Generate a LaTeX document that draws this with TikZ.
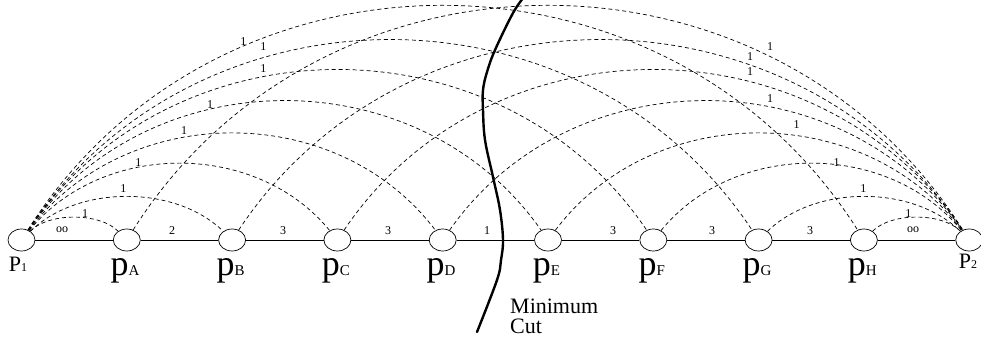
\documentclass[tikz,border=0pt]{standalone}
\usepackage{fontspec}
\setmainfont{Liberation Serif}
\usetikzlibrary{shapes.geometric}
\tikzset{
  vtx/.style={draw, ellipse, minimum width=27pt, minimum height=22pt, inner sep=0pt, line width=0.7pt},
  dasharc/.style={dash pattern=on 4pt off 3pt, line width=0.7pt},
  edgeline/.style={line width=0.7pt},
  wlbl/.style={inner sep=0pt, font=\fontsize{12}{12}\selectfont},
  namelbl/.style={inner sep=0pt, anchor=base},
  cutline/.style={line width=2.4pt, line cap=round}
}
\newcommand{\bigP}[1]{{\fontsize{22}{22}\selectfont P}{\fontsize{12}{12}\selectfont #1}}
\newcommand{\smallp}[1]{{\fontsize{36}{36}\selectfont p}{\fontsize{15}{15}\selectfont #1}}
\begin{document}
\begin{tikzpicture}[x=1pt,y=1pt]
\useasboundingbox (0,0) rectangle (981,345);
% vertices
\node[vtx] (P1) at (21.5,105) {};
\node[vtx] (pA) at (126.8,105) {};
\node[vtx] (pB) at (232.1,105) {};
\node[vtx] (pC) at (337.4,105) {};
\node[vtx] (pD) at (442.7,105) {};
\node[vtx] (pE) at (548.0,105) {};
\node[vtx] (pF) at (653.3,105) {};
\node[vtx] (pG) at (758.6,105) {};
\node[vtx] (pH) at (863.9,105) {};
\node[vtx] (P2) at (969.2,105) {};
% vertex names
\node[namelbl] (nP1) at (18,73) {\bigP{1}};
\node[namelbl] (nA) at (125,69) {\smallp{A}};
\node[namelbl] (nB) at (230.5,69) {\smallp{B}};
\node[namelbl] (nC) at (335.8,69) {\smallp{C}};
\node[namelbl] (nD) at (441,69) {\smallp{D}};
\node[namelbl] (nE) at (546.4,69) {\smallp{E}};
\node[namelbl] (nF) at (651.7,69) {\smallp{F}};
\node[namelbl] (nG) at (757,69) {\smallp{G}};
\node[namelbl] (nH) at (862.3,69) {\smallp{H}};
\node[namelbl] (nP2) at (968,76) {\bigP{2}};
% chain edges
\draw[edgeline] (P1) -- (pA);
\draw[edgeline] (pA) -- (pB);
\draw[edgeline] (pB) -- (pC);
\draw[edgeline] (pC) -- (pD);
\draw[edgeline] (pD) -- (pE);
\draw[edgeline] (pE) -- (pF);
\draw[edgeline] (pF) -- (pG);
\draw[edgeline] (pG) -- (pH);
\draw[edgeline] (pH) -- (P2);
% chain weights
\node[wlbl] (w1) at (62,115) {oo};
\node[wlbl] (w2) at (172,114) {2};
\node[wlbl] (w3) at (283,114) {3};
\node[wlbl] (w4) at (388,114) {3};
\node[wlbl] (w5) at (487,114) {1};
\node[wlbl] (w6) at (613,114) {3};
\node[wlbl] (w7) at (712,114) {3};
\node[wlbl] (w8) at (810,114) {3};
\node[wlbl] (w9) at (913,115) {oo};
% arcs from P1
\draw[dasharc] (P1) to[bend left=45.4, looseness=0.77] (pA);
\draw[dasharc] (P1) to[bend left=44.4, looseness=0.885] (pB);
\draw[dasharc] (P1) to[bend left=50.8, looseness=0.99] (pC);
\draw[dasharc] (P1) to[bend left=53.0, looseness=1.026] (pD);
\draw[dasharc] (P1) to[bend left=55.0, looseness=1.055] (pE);
\draw[dasharc] (P1) to[bend left=56.0, looseness=1.071] (pF);
\draw[dasharc] (P1) to[bend left=56.5, looseness=1.079] (pG);
\draw[dasharc] (P1) to[bend left=57.7, looseness=1.095] (pH);
% arcs to P2
\draw[dasharc] (pH) to[bend left=45.4, looseness=0.77] (P2);
\draw[dasharc] (pG) to[bend left=44.4, looseness=0.885] (P2);
\draw[dasharc] (pF) to[bend left=50.8, looseness=0.99] (P2);
\draw[dasharc] (pE) to[bend left=53.0, looseness=1.026] (P2);
\draw[dasharc] (pD) to[bend left=55.0, looseness=1.055] (P2);
\draw[dasharc] (pC) to[bend left=56.0, looseness=1.071] (P2);
\draw[dasharc] (pB) to[bend left=56.5, looseness=1.079] (P2);
\draw[dasharc] (pA) to[bend left=57.7, looseness=1.095] (P2);
% arc weights left
\node[wlbl] (l8) at (243.3,303.3) {1};
\node[wlbl] (l7) at (263.3,298.3) {1};
\node[wlbl] (l6) at (263.3,276.7) {1};
\node[wlbl] (l5) at (210,240) {1};
\node[wlbl] (l4) at (184,214) {1};
\node[wlbl] (l3) at (138.3,182.7) {1};
\node[wlbl] (l2) at (123.3,156.7) {1};
\node[wlbl] (l1) at (85,131.7) {1};
% arc weights right
\node[wlbl] (r8) at (770,298.3) {1};
\node[wlbl] (r7) at (750,288.3) {1};
\node[wlbl] (r6) at (750,273.3) {1};
\node[wlbl] (r5) at (770,246.7) {1};
\node[wlbl] (r4) at (796.7,220) {1};
\node[wlbl] (r3) at (836.7,182.7) {1};
\node[wlbl] (r2) at (863.3,156.7) {1};
\node[wlbl] (r1) at (908.3,131.7) {1};
% minimum cut
\draw[cutline] plot[smooth, tension=0.6] coordinates {(524,348) (513,332) (495,295) (487,273) (483,255) (483,235) (485,205) (493,168) (500,135) (503,105) (501,85) (497,65) (477,13)};
\node[anchor=base west, inner sep=0pt, font=\fontsize{22}{22}\selectfont] (mc1) at (510,31.7) {Minimum};
\node[anchor=base west, inner sep=0pt, font=\fontsize{22}{22}\selectfont] (mc2) at (510,11.7) {Cut};
\end{tikzpicture}
\end{document}
